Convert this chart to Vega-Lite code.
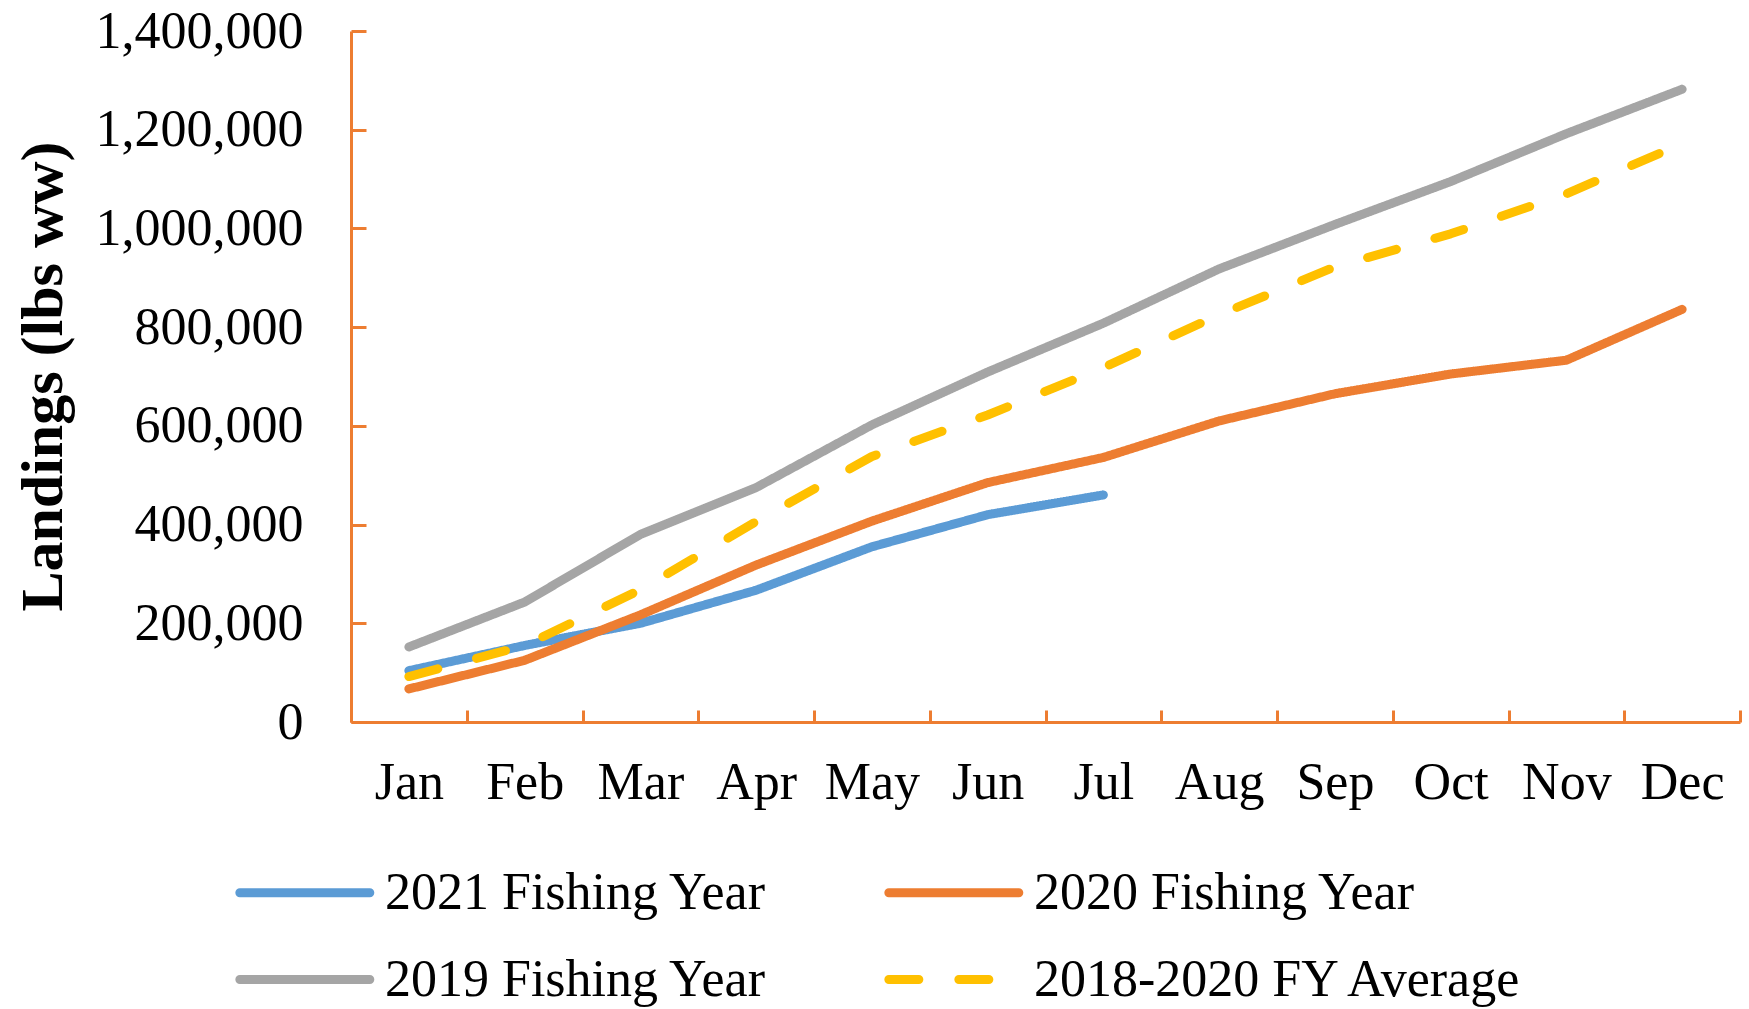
{
  "$schema": "https://vega.github.io/schema/vega-lite/v6.json",
  "autosize": {"type": "none"},
  "padding": {"left": 351, "top": 31, "right": 9, "bottom": 287},
  "width": 1389,
  "height": 691,
  "background": "white",
  "config": {"view": {"stroke": null}},
  "data": {
    "values": [
      {"month": "Jan", "series": "2021 Fishing Year", "lbs": 104000},
      {"month": "Feb", "series": "2021 Fishing Year", "lbs": 155000},
      {"month": "Mar", "series": "2021 Fishing Year", "lbs": 200000},
      {"month": "Apr", "series": "2021 Fishing Year", "lbs": 267000},
      {"month": "May", "series": "2021 Fishing Year", "lbs": 355000},
      {"month": "Jun", "series": "2021 Fishing Year", "lbs": 420000},
      {"month": "Jul", "series": "2021 Fishing Year", "lbs": 460000},
      {"month": "Jan", "series": "2020 Fishing Year", "lbs": 67000},
      {"month": "Feb", "series": "2020 Fishing Year", "lbs": 125000},
      {"month": "Mar", "series": "2020 Fishing Year", "lbs": 217000},
      {"month": "Apr", "series": "2020 Fishing Year", "lbs": 318000},
      {"month": "May", "series": "2020 Fishing Year", "lbs": 407000},
      {"month": "Jun", "series": "2020 Fishing Year", "lbs": 485000},
      {"month": "Jul", "series": "2020 Fishing Year", "lbs": 536000},
      {"month": "Aug", "series": "2020 Fishing Year", "lbs": 610000},
      {"month": "Sep", "series": "2020 Fishing Year", "lbs": 665000},
      {"month": "Oct", "series": "2020 Fishing Year", "lbs": 705000},
      {"month": "Nov", "series": "2020 Fishing Year", "lbs": 733000},
      {"month": "Dec", "series": "2020 Fishing Year", "lbs": 836000},
      {"month": "Jan", "series": "2019 Fishing Year", "lbs": 152000},
      {"month": "Feb", "series": "2019 Fishing Year", "lbs": 243000},
      {"month": "Mar", "series": "2019 Fishing Year", "lbs": 380000},
      {"month": "Apr", "series": "2019 Fishing Year", "lbs": 475000},
      {"month": "May", "series": "2019 Fishing Year", "lbs": 602000},
      {"month": "Jun", "series": "2019 Fishing Year", "lbs": 709000},
      {"month": "Jul", "series": "2019 Fishing Year", "lbs": 808000},
      {"month": "Aug", "series": "2019 Fishing Year", "lbs": 918000},
      {"month": "Sep", "series": "2019 Fishing Year", "lbs": 1008000},
      {"month": "Oct", "series": "2019 Fishing Year", "lbs": 1095000},
      {"month": "Nov", "series": "2019 Fishing Year", "lbs": 1192000},
      {"month": "Dec", "series": "2019 Fishing Year", "lbs": 1282000},
      {"month": "Jan", "series": "2018-2020 FY Average", "lbs": 92000},
      {"month": "Feb", "series": "2018-2020 FY Average", "lbs": 155000},
      {"month": "Mar", "series": "2018-2020 FY Average", "lbs": 268000},
      {"month": "Apr", "series": "2018-2020 FY Average", "lbs": 406000},
      {"month": "May", "series": "2018-2020 FY Average", "lbs": 538000},
      {"month": "Jun", "series": "2018-2020 FY Average", "lbs": 622000},
      {"month": "Jul", "series": "2018-2020 FY Average", "lbs": 718000},
      {"month": "Aug", "series": "2018-2020 FY Average", "lbs": 825000},
      {"month": "Sep", "series": "2018-2020 FY Average", "lbs": 922000},
      {"month": "Oct", "series": "2018-2020 FY Average", "lbs": 989000},
      {"month": "Nov", "series": "2018-2020 FY Average", "lbs": 1070000},
      {"month": "Dec", "series": "2018-2020 FY Average", "lbs": 1172000}
    ]
  },
  "mark": {"type": "line", "strokeWidth": 9, "strokeCap": "round", "strokeJoin": "round"},
  "encoding": {
    "x": {
      "field": "month",
      "type": "ordinal",
      "bandPosition": 0.5,
      "sort": ["Jan", "Feb", "Mar", "Apr", "May", "Jun", "Jul", "Aug", "Sep", "Oct", "Nov", "Dec"],
      "scale": {"type": "band", "paddingInner": 0, "paddingOuter": 0},
      "axis": {
        "title": null,
        "labelAngle": 0,
        "tickBand": "extent",
        "domainColor": "#ED7D31",
        "domainWidth": 3,
        "tickColor": "#ED7D31",
        "tickWidth": 3,
        "tickSize": -12,
        "labelPadding": 47,
        "labelFont": "Liberation Serif",
        "labelFontSize": 52,
        "labelColor": "#000000"
      }
    },
    "y": {
      "field": "lbs",
      "type": "quantitative",
      "scale": {"domain": [0, 1400000]},
      "axis": {
        "title": "Landings (lbs ww)",
        "titleFont": "Liberation Serif",
        "titleFontSize": 60,
        "titleFontWeight": "bold",
        "titleColor": "#000000",
        "titleX": -308,
        "titleY": 345,
        "titleAngle": -90,
        "titleAlign": "center",
        "titleBaseline": "middle",
        "values": [0, 200000, 400000, 600000, 800000, 1000000, 1200000, 1400000],
        "format": ",d",
        "grid": false,
        "domainColor": "#ED7D31",
        "domainWidth": 3,
        "tickColor": "#ED7D31",
        "tickWidth": 3,
        "tickSize": -15,
        "labelPadding": 63,
        "labelLimit": 400,
        "labelFont": "Liberation Serif",
        "labelFontSize": 52,
        "labelColor": "#000000"
      }
    },
    "color": {
      "field": "series",
      "type": "nominal",
      "scale": {
        "domain": ["2021 Fishing Year", "2020 Fishing Year", "2019 Fishing Year", "2018-2020 FY Average"],
        "range": ["#5B9BD5", "#ED7D31", "#A5A5A5", "#FFC000"]
      },
      "legend": {
        "title": null,
        "orient": "none",
        "legendX": -116,
        "legendY": 835,
        "direction": "horizontal",
        "columns": 2,
        "padding": 0,
        "symbolType": "M-1,0H5",
        "symbolSize": 1877,
        "symbolStrokeWidth": 9,
        "labelOffset": 97,
        "labelFont": "Liberation Serif",
        "labelFontSize": 52,
        "labelColor": "#000000",
        "labelLimit": 1000,
        "rowPadding": 34,
        "columnPadding": 103,
        "encode": {"symbols": {"update": {"strokeCap": {"value": "round"}}}}
      }
    },
    "strokeDash": {
      "field": "series",
      "type": "nominal",
      "scale": {
        "domain": ["2021 Fishing Year", "2020 Fishing Year", "2019 Fishing Year", "2018-2020 FY Average"],
        "range": [[1, 0], [1, 0], [1, 0], [30, 40]]
      },
      "legend": {
        "title": null,
        "orient": "none",
        "legendX": -116,
        "legendY": 835,
        "direction": "horizontal",
        "columns": 2,
        "padding": 0,
        "symbolType": "M-1,0H5",
        "symbolSize": 1877,
        "symbolStrokeWidth": 9,
        "labelOffset": 97,
        "labelFont": "Liberation Serif",
        "labelFontSize": 52,
        "labelColor": "#000000",
        "labelLimit": 1000,
        "rowPadding": 34,
        "columnPadding": 103,
        "encode": {"symbols": {"update": {"strokeCap": {"value": "round"}}}}
      }
    }
  }
}
